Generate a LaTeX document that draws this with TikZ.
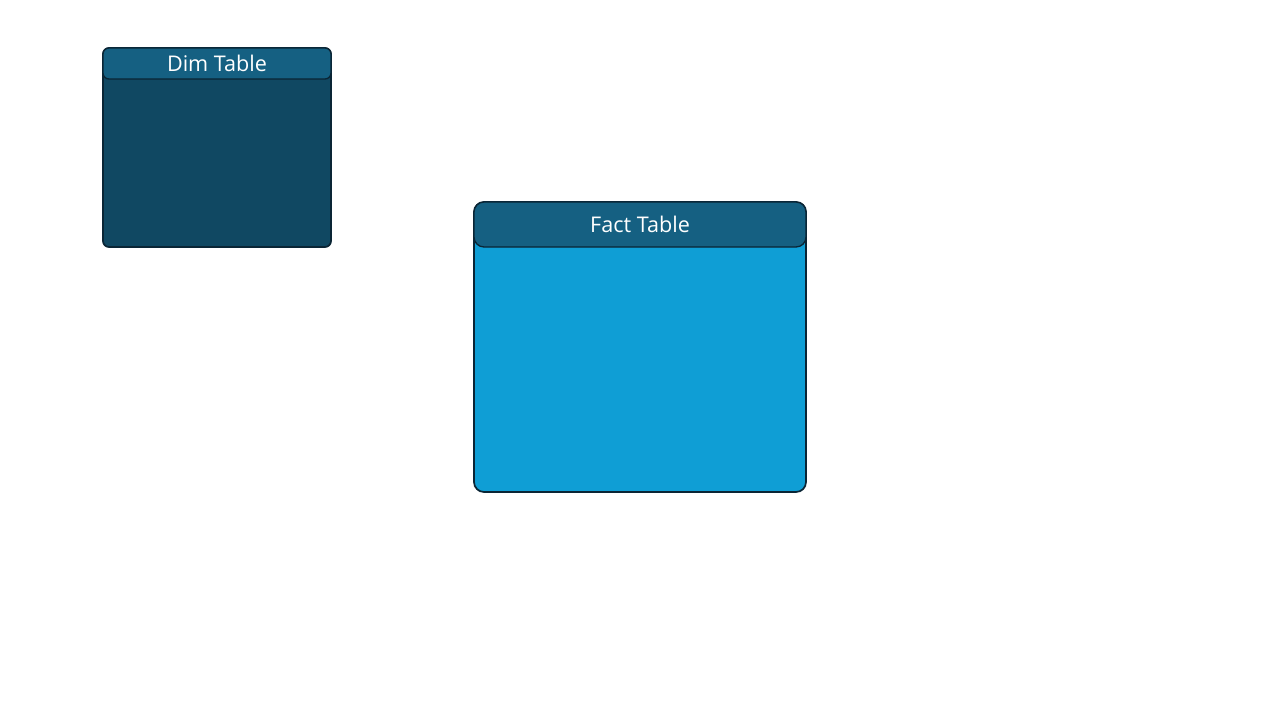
\documentclass[tikz,border=0pt]{standalone}
\usepackage{fontspec}
\setmainfont{Open Sans}
\definecolor{headblue}{HTML}{156082}
\definecolor{dimblue}{HTML}{104862}
\definecolor{factblue}{HTML}{0F9ED5}
\definecolor{edgeblue}{HTML}{0A2535}
\begin{document}
\begin{tikzpicture}[x=0.75pt, y=-0.75pt,
  tablebody/.style={draw=edgeblue, line width=1.3pt, rounded corners=#1},
  tablehead/.style={draw=edgeblue, line width=1pt, fill=headblue, rounded corners=#1},
  headtext/.style={text=white, font=\fontsize{16.2}{19}\selectfont}]

\useasboundingbox (0,0) rectangle (1280,720);

% dim table
\draw[tablebody=4.5pt, fill=dimblue] (103,48) rectangle (331,247);
\draw[tablehead=4.5pt] (103,48) rectangle (331,79);
\node[headtext] (dim) at (217,63.5) {Dim Table};

% fact table
\draw[tablebody=7.5pt, fill=factblue] (474,202) rectangle (806,492);
\draw[tablehead=7.5pt] (474,202) rectangle (806,247);
\node[headtext] (fact) at (640,224.5) {Fact Table};

\end{tikzpicture}
\end{document}
